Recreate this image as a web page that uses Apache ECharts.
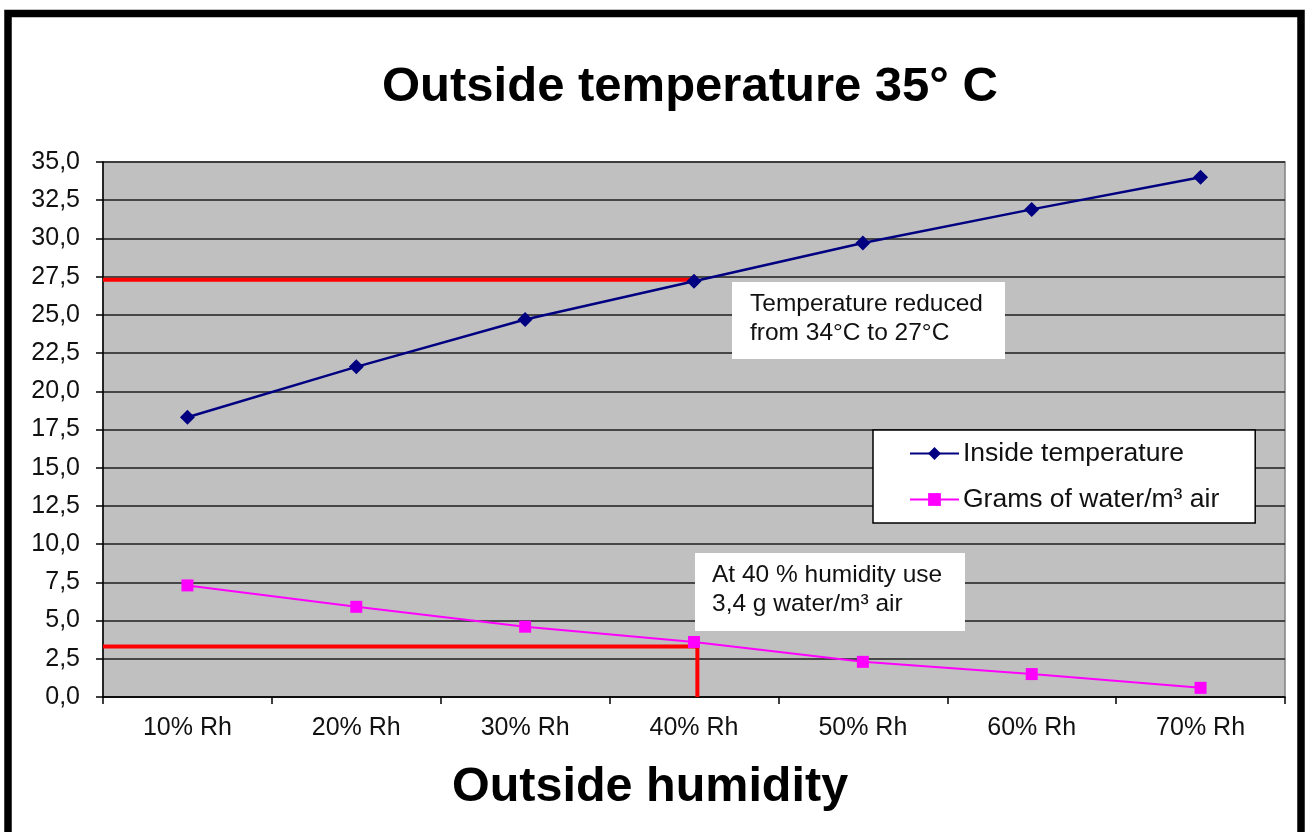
<!DOCTYPE html>
<html>
<head>
<meta charset="utf-8">
<script src="https://cdn.jsdelivr.net/npm/echarts@6/dist/echarts.min.js"></script>
<style>
html,body{margin:0;padding:0;background:#fff;}
#c{width:1309px;height:832px;}
</style>
</head>
<body>
<div id="c"></div>
<script>
const categories = ['10% Rh','20% Rh','30% Rh','40% Rh','50% Rh','60% Rh','70% Rh'];
const insideTemp = [18.3, 21.6, 24.7, 27.2, 29.7, 31.9, 34.0];
const gramsWater = [7.3, 5.9, 4.6, 3.6, 2.3, 1.5, 0.6];
const redTempLine = [[0, 27.3], [3.52, 27.3]];
const redWaterLine = [[0, 3.3], [3.52, 3.3], [3.52, 0]];
const yTicks = { min: 0, max: 35, interval: 2.5 };
const titleText = 'Outside temperature 35° C';
const xTitleText = 'Outside humidity';
const note1 = ['Temperature reduced', 'from 34°C to 27°C'];
const note2 = ['At 40 % humidity use', '3,4 g water/m³ air'];

const FONT = '"Liberation Sans", Arial, sans-serif';
const chart = echarts.init(document.getElementById('c'), null, {renderer: 'canvas'});

const option = {
  backgroundColor: '#fff',
  animation: false,
  title: [
    { text: titleText, left: 382, top: 63, padding: 0,
      textStyle: { fontFamily: FONT, fontSize: 49, fontWeight: 'bold', color: '#000' } },
    { text: xTitleText, left: 452, top: 763, padding: 0,
      textStyle: { fontFamily: FONT, fontSize: 48.5, fontWeight: 'bold', color: '#000' } }
  ],
  legend: {
    data: ['Inside temperature', 'Grams of water/m³ air'],
    orient: 'vertical',
    left: 873, top: 430,
    padding: [10, 36, 10, 36],
    backgroundColor: '#fff',
    borderColor: '#000', borderWidth: 1.5,
    itemWidth: 49, itemHeight: 16, itemGap: 19,
    textStyle: { fontFamily: FONT, fontSize: 26.5, color: '#111', lineHeight: 26, padding: [0,0,0,-1] }
  },
  grid: {
    left: 103, top: 162, right: 24, bottom: 135,
    show: true, backgroundColor: '#c0c0c0', borderColor: '#808080', borderWidth: 1.5
  },
  xAxis: [
    { type: 'category', data: categories, boundaryGap: true,
      axisLine: { lineStyle: { color: '#000', width: 1.5 } },
      axisTick: { show: true, length: 7, lineStyle: { color: '#000', width: 1.5 } },
      axisLabel: { fontFamily: FONT, fontSize: 25, color: '#111', margin: 19 },
      splitLine: { show: false } },
    { type: 'value', min: 0, max: 7, show: false }
  ],
  yAxis: {
    type: 'value', min: yTicks.min, max: yTicks.max, interval: yTicks.interval,
    axisLine: { show: true, lineStyle: { color: '#000', width: 1.5 } },
    axisTick: { show: true, length: 7, lineStyle: { color: '#000', width: 1.5 } },
    axisLabel: { fontFamily: FONT, fontSize: 25, color: '#111', margin: 23,
      formatter: v => v.toFixed(1).replace('.', ',') },
    splitLine: { show: true, lineStyle: { color: '#1e1e1e', width: 1.5 } }
  },
  series: [
    { name: 'redTemp', type: 'line', xAxisIndex: 1, data: redTempLine, symbol: 'none',
      lineStyle: { color: '#ff0000', width: 4 }, silent: true, z: 2 },
    { name: 'redWater', type: 'line', xAxisIndex: 1, data: redWaterLine, symbol: 'none',
      lineStyle: { color: '#ff0000', width: 4 }, silent: true, z: 2 },
    { name: 'Inside temperature', type: 'line', data: insideTemp,
      symbol: 'diamond', symbolSize: 15,
      itemStyle: { color: '#000080' }, lineStyle: { color: '#000080', width: 2.5 }, z: 3 },
    { name: 'Grams of water/m³ air', type: 'line', data: gramsWater,
      symbol: 'rect', symbolSize: 12,
      itemStyle: { color: '#ff00ff' }, lineStyle: { color: '#ff00ff', width: 2 }, z: 3 }
  ],
  graphic: [
    { type: 'rect', shape: { x: 8, y: 13.5, width: 1293, height: 1000 },
      style: { fill: null, stroke: '#000', lineWidth: 7.5 }, z: 100 },
    { type: 'rect', z: 60, shape: { x: 732, y: 282, width: 273, height: 77 }, style: { fill: '#fff' } },
    { type: 'text', z: 61, x: 750, y: 290, style: { text: note1.join('\n'), fontFamily: FONT, fontSize: 24.5,
        lineHeight: 29, fill: '#111' } },
    { type: 'rect', z: 60, shape: { x: 695, y: 553, width: 270, height: 78 }, style: { fill: '#fff' } },
    { type: 'text', z: 61, x: 712, y: 561, style: { text: note2.join('\n'), fontFamily: FONT, fontSize: 24.5,
        lineHeight: 29, fill: '#111' } }
  ]
};
chart.setOption(option);
</script>
</body>
</html>
